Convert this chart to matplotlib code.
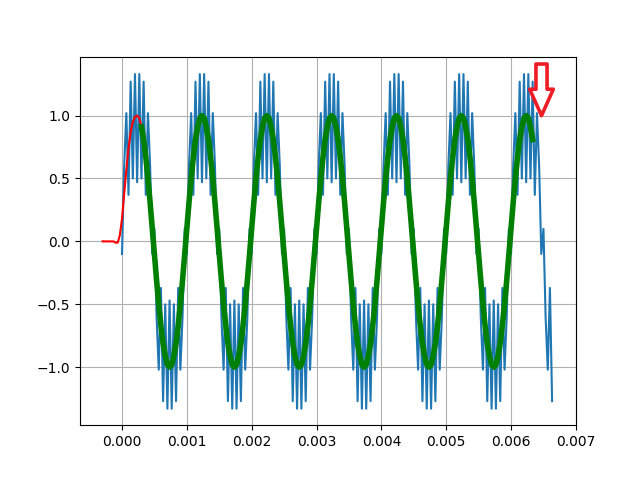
import numpy as np
import matplotlib
matplotlib.use("Agg")
import matplotlib.pyplot as plt

sample_rate = 30000.0
taps_delay_samples = 9  # half of (N-1), N = 19 taps

# Noisy input signal (blue), one value per sample
x_signal = [
    -0.10, 0.60, 1.02, 0.37, 1.27, 0.50, 1.33, 0.47, 1.33, 0.50, 1.27, 0.37, 1.02, 0.60, -0.10,
    0.10, -0.60, -1.02, -0.37, -1.27, -0.50, -1.33, -0.47, -1.33, -0.50, -1.27, -0.37, -1.02, -0.60, 0.10,
    -0.10, 0.60, 1.02, 0.37, 1.27, 0.50, 1.33, 0.47, 1.33, 0.50, 1.27, 0.37, 1.02, 0.60, -0.10,
    0.10, -0.60, -1.02, -0.37, -1.27, -0.50, -1.33, -0.47, -1.33, -0.50, -1.27, -0.37, -1.02, -0.60, 0.10,
    -0.10, 0.60, 1.02, 0.37, 1.27, 0.50, 1.33, 0.47, 1.33, 0.50, 1.27, 0.37, 1.02, 0.60, -0.10,
    0.10, -0.60, -1.02, -0.37, -1.27, -0.50, -1.33, -0.47, -1.33, -0.50, -1.27, -0.37, -1.02, -0.60, 0.10,
    -0.10, 0.60, 1.02, 0.37, 1.27, 0.50, 1.33, 0.47, 1.33, 0.50, 1.27, 0.37, 1.02, 0.60, -0.10,
    0.10, -0.60, -1.02, -0.37, -1.27, -0.50, -1.33, -0.47, -1.33, -0.50, -1.27, -0.37, -1.02, -0.60, 0.10,
    -0.10, 0.60, 1.02, 0.37, 1.27, 0.50, 1.33, 0.47, 1.33, 0.50, 1.27, 0.37, 1.02, 0.60, -0.10,
    0.10, -0.60, -1.02, -0.37, -1.27, -0.50, -1.33, -0.47, -1.33, -0.50, -1.27, -0.37, -1.02, -0.60, 0.10,
    -0.10, 0.60, 1.02, 0.37, 1.27, 0.50, 1.33, 0.47, 1.33, 0.50, 1.27, 0.37, 1.02, 0.60, -0.10,
    0.10, -0.60, -1.02, -0.37, -1.27, -0.50, -1.33, -0.47, -1.33, -0.50, -1.27, -0.37, -1.02, -0.60, 0.10,
    -0.10, 0.60, 1.02, 0.37, 1.27, 0.50, 1.33, 0.47, 1.33, 0.50, 1.27, 0.37, 1.02, 0.60, -0.10,
    0.10, -0.60, -1.02, -0.37, -1.27,
]

# Start-up transient of the filtered output (red), samples 0..18
filtered_start = [
    0.00, 0.00, 0.00, 0.00, 0.00, 0.00, -0.01, -0.01, 0.05, 0.18,
    0.38, 0.57, 0.74, 0.87, 0.95, 0.99, 1.00, 0.98, 0.91,
]

# Settled part of the filtered output (green), samples 18..199
filtered_good = [
    0.91, 0.81, 0.67, 0.50, 0.31, 0.10, -0.10, -0.31, -0.50, -0.67, -0.81,
    -0.91, -0.98, -1.00, -0.98, -0.91, -0.81, -0.67, -0.50, -0.31, -0.10,
    0.10, 0.31, 0.50, 0.67, 0.81, 0.91, 0.98, 1.00, 0.98, 0.91, 0.81, 0.67, 0.50, 0.31, 0.10,
    -0.10, -0.31, -0.50, -0.67, -0.81, -0.91, -0.98, -1.00, -0.98, -0.91, -0.81, -0.67, -0.50, -0.31, -0.10,
    0.10, 0.31, 0.50, 0.67, 0.81, 0.91, 0.98, 1.00, 0.98, 0.91, 0.81, 0.67, 0.50, 0.31, 0.10,
    -0.10, -0.31, -0.50, -0.67, -0.81, -0.91, -0.98, -1.00, -0.98, -0.91, -0.81, -0.67, -0.50, -0.31, -0.10,
    0.10, 0.31, 0.50, 0.67, 0.81, 0.91, 0.98, 1.00, 0.98, 0.91, 0.81, 0.67, 0.50, 0.31, 0.10,
    -0.10, -0.31, -0.50, -0.67, -0.81, -0.91, -0.98, -1.00, -0.98, -0.91, -0.81, -0.67, -0.50, -0.31, -0.10,
    0.10, 0.31, 0.50, 0.67, 0.81, 0.91, 0.98, 1.00, 0.98, 0.91, 0.81, 0.67, 0.50, 0.31, 0.10,
    -0.10, -0.31, -0.50, -0.67, -0.81, -0.91, -0.98, -1.00, -0.98, -0.91, -0.81, -0.67, -0.50, -0.31, -0.10,
    0.10, 0.31, 0.50, 0.67, 0.81, 0.91, 0.98, 1.00, 0.98, 0.91, 0.81, 0.67, 0.50, 0.31, 0.10,
    -0.10, -0.31, -0.50, -0.67, -0.81, -0.91, -0.98, -1.00, -0.98, -0.91, -0.81, -0.67, -0.50, -0.31, -0.10,
    0.10, 0.31, 0.50, 0.67, 0.81, 0.91, 0.98, 1.00, 0.98, 0.91, 0.81,
]

# Annotation arrow position (data coords)
arrow_tip = (0.00647, 1.0)
arrow_tail = (0.00647, 1.41)

t = np.arange(len(x_signal)) / sample_rate
delay = taps_delay_samples / sample_rate
t_red = t[:len(filtered_start)] - delay
n_start = len(filtered_start) - 1
t_green = t[n_start:n_start + len(filtered_good)] - delay

fig, ax = plt.subplots(figsize=(6.4, 4.78), dpi=100)
ax.plot(t, x_signal)
ax.plot(t_red, filtered_start, 'r-')
ax.plot(t_green, filtered_good, 'g', linewidth=4)
ax.grid(True)
ax.set_xlim(-0.000648, 0.007002)

ax.annotate('', xy=arrow_tip, xytext=arrow_tail,
            arrowprops=dict(facecolor='white', edgecolor='#ee1c25', lw=2.6,
                            width=8, headwidth=17, headlength=19))

fig.savefig('out.png', dpi=100)
